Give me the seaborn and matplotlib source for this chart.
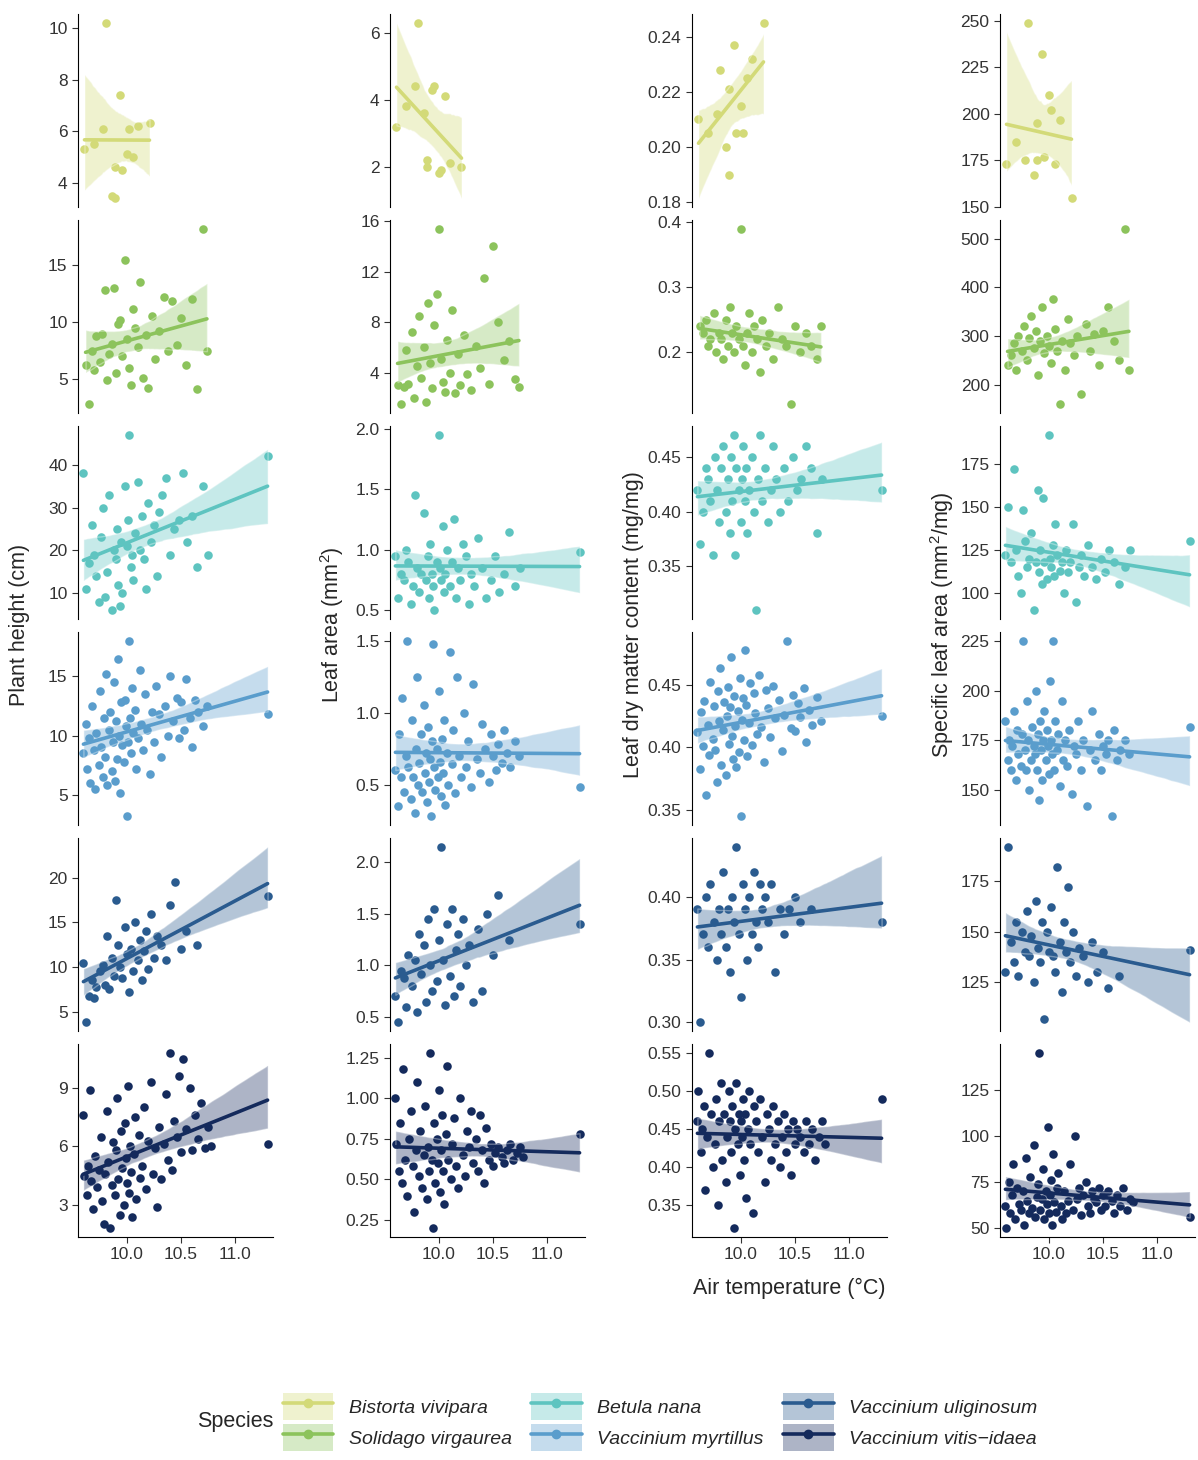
import numpy as np
import pandas as pd
import matplotlib.pyplot as plt
import seaborn as sns
from matplotlib.lines import Line2D
from matplotlib.patches import Patch

# ---- data (one point per plant) ----
species = ["Bistorta vivipara", "Solidago virgaurea", "Betula nana",
           "Vaccinium myrtillus", "Vaccinium uliginosum", "Vaccinium vitis\u2212idaea"]
colors = ["#d3da78", "#8cc35c", "#5ec4c0", "#5a9dcc", "#2a5b8f", "#142a5c"]
traits = ["height", "leaf_area", "ldmc", "sla"]

x_bv = [9.61, 9.70, 9.78, 9.81, 9.86, 9.89, 9.89, 9.94, 9.96, 10.00, 10.02, 10.06, 10.10, 10.21]
height_bv = [5.3, 5.5, 6.1, 10.2, 3.5, 3.4, 4.6, 7.4, 4.5, 5.1, 6.1, 5.0, 6.2, 6.3]
la_bv = [3.2, 3.8, 4.4, 6.3, 3.6, 2.2, 2.0, 4.3, 4.4, 1.8, 1.9, 4.1, 2.1, 2.0]
ldmc_bv = [0.21, 0.205, 0.212, 0.228, 0.20, 0.221, 0.19, 0.237, 0.205, 0.215, 0.205, 0.225, 0.232, 0.245]
sla_bv = [173, 185, 175, 249, 167, 175, 195, 232, 177, 210, 202, 173, 197, 155]

x_sv = [9.62, 9.65, 9.68, 9.70, 9.72, 9.75, 9.77, 9.80, 9.82, 9.84, 9.86, 9.88, 9.90, 9.92, 9.94, 9.96, 9.98, 10.00, 10.02, 10.04,
        10.06, 10.08, 10.10, 10.12, 10.15, 10.18, 10.20, 10.23, 10.26, 10.30, 10.34, 10.38, 10.42, 10.46, 10.50, 10.55, 10.60, 10.65, 10.70, 10.74]
height_sv = [6.2, 2.8, 7.5, 5.8, 8.8, 6.5, 9.0, 12.8, 4.9, 7.2, 8.1, 13.0, 5.5, 9.8, 10.2, 7.0, 15.5, 8.5, 6.0, 4.5,
             11.2, 9.5, 7.8, 13.5, 5.1, 8.9, 4.2, 10.5, 6.8, 9.2, 12.2, 7.5, 11.9, 8.0, 10.4, 6.2, 12.0, 4.1, 18.2, 7.5]
la_sv = [3.0, 1.5, 2.9, 5.8, 3.1, 7.2, 2.0, 4.5, 8.5, 3.6, 6.0, 1.7, 9.5, 4.8, 2.8, 7.8, 10.2, 15.4, 5.1, 3.3,
         2.5, 6.6, 4.0, 9.0, 2.4, 5.5, 3.0, 7.0, 3.9, 2.6, 6.1, 4.4, 11.5, 3.1, 14.0, 8.0, 5.0, 6.5, 3.5, 2.9]
ldmc_sv = [0.24, 0.23, 0.25, 0.21, 0.22, 0.26, 0.20, 0.23, 0.22, 0.19, 0.25, 0.21, 0.27, 0.23, 0.20, 0.24, 0.22, 0.39, 0.21, 0.18,
           0.23, 0.26, 0.20, 0.24, 0.22, 0.17, 0.25, 0.21, 0.23, 0.19, 0.27, 0.22, 0.21, 0.12, 0.24, 0.20, 0.23, 0.21, 0.19, 0.24]
sla_sv = [240, 260, 285, 230, 300, 270, 320, 250, 295, 340, 275, 310, 220, 290, 360, 265, 300, 280, 245, 375,
          315, 270, 160, 290, 230, 335, 285, 260, 300, 180, 325, 270, 305, 240, 310, 360, 290, 250, 520, 230]

x_bn = [9.60, 9.62, 9.65, 9.68, 9.70, 9.72, 9.74, 9.76, 9.78, 9.80, 9.82, 9.84, 9.86, 9.88, 9.90, 9.91, 9.92, 9.94, 9.95, 9.96,
        9.98, 10.00, 10.01, 10.02, 10.04, 10.05, 10.06, 10.08, 10.10, 10.12, 10.14, 10.16, 10.18, 10.20, 10.22, 10.25, 10.28, 10.30, 10.33, 10.36,
        10.40, 10.44, 10.48, 10.52, 10.56, 10.60, 10.65, 10.70, 10.75, 11.30]
height_bn = [38, 11, 17, 26, 19, 14, 8, 23, 30, 9, 15, 33, 6, 20, 18, 25, 12, 7, 22, 10,
             35, 21, 27, 47, 16, 19, 13, 24, 36, 20, 28, 18, 11, 31, 22, 26, 14, 29, 33, 37,
             19, 25, 27, 38, 22, 28, 16, 35, 19, 42]
la_bn = [0.95, 0.6, 0.8, 0.75, 1.0, 0.9, 0.55, 0.7, 1.45, 0.85, 0.65, 0.8, 1.3, 0.75, 0.95, 0.6, 1.05, 0.8, 0.7, 0.5,
         0.9, 1.95, 0.85, 0.75, 1.2, 0.65, 0.8, 1.0, 0.7, 0.9, 1.25, 0.6, 0.85, 0.75, 1.05, 0.95, 0.55, 0.8, 0.7, 1.1,
         0.85, 0.6, 0.75, 0.95, 0.65, 0.8, 1.15, 0.7, 0.85, 0.98]
ldmc_bn = [0.42, 0.37, 0.40, 0.44, 0.43, 0.41, 0.36, 0.45, 0.42, 0.39, 0.44, 0.46, 0.40, 0.43, 0.38, 0.45, 0.41, 0.47, 0.36, 0.44,
           0.42, 0.39, 0.43, 0.46, 0.41, 0.44, 0.38, 0.42, 0.45, 0.40, 0.31, 0.43, 0.47, 0.41, 0.44, 0.39, 0.42, 0.46, 0.43, 0.40,
           0.44, 0.41, 0.45, 0.42, 0.43, 0.46, 0.44, 0.38, 0.43, 0.42]
sla_bn = [122, 150, 118, 172, 125, 110, 100, 148, 130, 115, 120, 135, 90, 118, 160, 112, 125, 105, 155, 118,
          108, 192, 120, 115, 128, 110, 140, 122, 113, 118, 100, 125, 112, 118, 140, 95, 115, 122, 110, 128,
          115, 108, 120, 112, 125, 118, 105, 115, 125, 130]

x_vm = [9.60, 9.62, 9.63, 9.65, 9.66, 9.68, 9.70, 9.71, 9.72, 9.74,
        9.75, 9.76, 9.78, 9.79, 9.80, 9.81, 9.82, 9.84, 9.85, 9.86,
        9.87, 9.88, 9.89, 9.90, 9.91, 9.92, 9.93, 9.94, 9.95, 9.96,
        9.97, 9.98, 9.99, 10.00, 10.01, 10.02, 10.03, 10.04, 10.05, 10.06,
        10.08, 10.09, 10.10, 10.12, 10.13, 10.15, 10.17, 10.19, 10.21, 10.23,
        10.25, 10.27, 10.30, 10.32, 10.35, 10.38, 10.40, 10.43, 10.46, 10.48,
        10.50, 10.53, 10.55, 10.58, 10.60, 10.63, 10.66, 10.70, 10.74, 11.30]
height_vm = [8.5, 11.0, 7.2, 9.8, 6.0, 12.5, 8.8, 5.5, 10.2, 7.5,
             13.8, 9.0, 6.5, 11.5, 8.2, 15.2, 5.8, 10.5, 12.0, 7.0,
             9.5, 14.5, 6.2, 11.2, 8.0, 16.5, 10.0, 5.2, 12.8, 9.2,
             7.8, 13.0, 10.8, 3.2, 9.5, 18.0, 11.5, 8.5, 14.0, 10.2,
             12.2, 7.2, 9.8, 15.5, 11.0, 8.8, 13.5, 10.5, 6.8, 12.0,
             9.5, 14.2, 11.8, 8.2, 12.5, 10.0, 15.0, 11.2, 13.2, 9.8,
             12.8, 10.5, 14.8, 11.5, 9.0, 13.0, 12.0, 10.8, 12.5, 11.8]
la_vm = [0.60, 0.35, 0.85, 0.55, 1.10, 0.45, 0.70, 1.50, 0.62, 0.40,
         0.95, 0.55, 0.30, 0.75, 1.25, 0.50, 0.65, 0.85, 0.45, 1.05,
         0.58, 0.72, 0.38, 0.90, 0.52, 0.68, 0.28, 0.80, 1.48, 0.62,
         0.46, 0.75, 0.55, 1.15, 0.66, 0.42, 0.82, 0.58, 0.95, 0.36,
         0.72, 0.50, 1.42, 0.64, 0.88, 0.44, 1.25, 0.70, 0.55, 1.00,
         0.62, 0.80, 0.48, 1.20, 0.68, 0.58, 0.92, 0.75, 0.52, 0.85,
         0.70, 0.60, 0.78, 0.65, 0.88, 0.72, 0.62, 0.80, 0.70, 0.48]
ldmc_vm = [0.412, 0.383, 0.428, 0.401, 0.437, 0.362, 0.418, 0.394, 0.452, 0.407,
           0.433, 0.398, 0.372, 0.445, 0.421, 0.463, 0.386, 0.414, 0.436, 0.378,
           0.425, 0.448, 0.403, 0.432, 0.472, 0.409, 0.391, 0.441, 0.417, 0.384,
           0.429, 0.396, 0.455, 0.345, 0.422, 0.439, 0.406, 0.478, 0.434, 0.393,
           0.419, 0.451, 0.402, 0.443, 0.427, 0.411, 0.458, 0.416, 0.388, 0.446,
           0.431, 0.408, 0.449, 0.423, 0.438, 0.397, 0.426, 0.485, 0.415, 0.442,
           0.413, 0.435, 0.424, 0.447, 0.404, 0.430, 0.418, 0.440, 0.421, 0.425]
sla_vm = [185, 165, 175, 160, 172, 190, 155, 180, 168, 162,
          178, 225, 170, 160, 195, 175, 150, 165, 182, 172,
          168, 200, 160, 178, 145, 185, 170, 155, 175, 190,
          165, 180, 172, 158, 205, 175, 168, 225, 160, 185,
          170, 178, 152, 195, 165, 175, 162, 180, 148, 172,
          168, 185, 160, 175, 142, 170, 190, 165, 178, 160,
          172, 168, 175, 137, 180, 165, 170, 175, 168, 182]

x_vu = [9.60, 9.62, 9.65, 9.68, 9.70, 9.72, 9.75, 9.78, 9.80, 9.82,
        9.84, 9.86, 9.88, 9.90, 9.92, 9.94, 9.96, 9.98, 10.00, 10.02,
        10.04, 10.06, 10.08, 10.10, 10.12, 10.14, 10.16, 10.18, 10.20, 10.22,
        10.25, 10.28, 10.32, 10.36, 10.40, 10.45, 10.50, 10.55, 10.65, 11.30]
height_vu = [10.5, 3.8, 6.8, 8.5, 6.5, 7.8, 9.5, 10.2, 8.0, 13.5,
             7.5, 11.0, 9.0, 17.5, 12.5, 10.0, 8.8, 14.5, 11.5, 7.2,
             12.0, 9.5, 15.0, 10.8, 13.0, 8.5, 11.8, 14.0, 9.8, 16.0,
             11.0, 13.5, 12.5, 10.8, 17.0, 19.5, 12.0, 14.0, 12.5, 18.0]
la_vu = [0.70, 0.45, 0.95, 0.88, 0.60, 1.10, 0.80, 1.05, 0.55, 1.30,
         0.92, 1.20, 0.65, 1.45, 1.00, 0.75, 1.55, 0.85, 1.25, 2.15,
         1.05, 0.62, 1.40, 0.90, 1.55, 0.70, 1.15, 1.30, 0.80, 1.45,
         1.00, 1.20, 0.65, 1.35, 0.75, 1.50, 1.10, 1.68, 1.25, 1.40]
ldmc_vu = [0.39, 0.30, 0.37, 0.40, 0.36, 0.41, 0.38, 0.35, 0.39, 0.37,
           0.42, 0.36, 0.39, 0.34, 0.40, 0.38, 0.44, 0.37, 0.32, 0.41,
           0.39, 0.35, 0.40, 0.37, 0.42, 0.38, 0.36, 0.41, 0.39, 0.40,
           0.38, 0.41, 0.34, 0.39, 0.37, 0.39, 0.40, 0.38, 0.39, 0.38]
sla_vu = [130, 192, 145, 135, 155, 128, 150, 140, 160, 138,
          148, 125, 165, 142, 135, 155, 107, 150, 140, 162,
          138, 130, 182, 145, 120, 155, 140, 172, 135, 150,
          128, 142, 138, 125, 145, 130, 140, 122, 128, 141]

x_vv = [9.60, 9.61, 9.63, 9.64, 9.66, 9.67, 9.69, 9.71, 9.73, 9.74,
        9.76, 9.77, 9.79, 9.80, 9.82, 9.83, 9.85, 9.86, 9.87, 9.89,
        9.90, 9.91, 9.92, 9.94, 9.95, 9.96, 9.97, 9.98, 9.99, 10.00,
        10.01, 10.02, 10.03, 10.04, 10.05, 10.07, 10.08, 10.09, 10.11, 10.12,
        10.14, 10.16, 10.18, 10.20, 10.22, 10.24, 10.26, 10.28, 10.30, 10.32,
        10.34, 10.36, 10.38, 10.40, 10.42, 10.44, 10.46, 10.48, 10.50, 10.52,
        10.55, 10.58, 10.60, 10.63, 10.66, 10.69, 10.72, 10.75, 10.78, 11.30]
height_vv = [7.6, 4.5, 3.5, 5.0, 8.9, 4.2, 2.8, 5.5, 3.9, 4.8,
             6.5, 3.2, 2.0, 4.6, 7.8, 5.2, 1.8, 4.0, 6.2, 3.5,
             5.8, 8.5, 4.3, 2.5, 6.8, 4.9, 3.0, 7.2, 5.4, 4.1,
             9.1, 3.6, 6.0, 4.7, 2.4, 5.6, 7.5, 3.3, 6.6, 4.4,
             5.0, 8.0, 3.8, 6.3, 9.3, 4.6, 5.9, 2.9, 7.0, 4.3,
             6.1, 8.7, 5.3, 10.8, 4.8, 7.3, 6.5, 9.6, 5.7, 10.5,
             6.9, 9.0, 5.8, 7.6, 6.4, 8.2, 5.9, 7.0, 6.0, 6.1]
la_vv = [1.00, 0.72, 0.55, 0.85, 0.48, 1.18, 0.62, 0.40, 0.75, 0.92,
         0.58, 0.30, 0.68, 1.10, 0.52, 0.80, 0.45, 0.65, 0.95, 0.38,
         0.70, 0.55, 1.28, 0.62, 0.20, 0.85, 0.48, 0.75, 0.60, 1.05,
         0.42, 0.68, 0.90, 0.55, 0.35, 0.78, 1.20, 0.62, 0.50, 0.72,
         0.88, 0.58, 0.45, 1.00, 0.65, 0.52, 0.80, 0.70, 0.92, 0.60,
         0.75, 0.55, 0.90, 0.68, 0.48, 0.82, 0.62, 0.72, 0.58, 0.66,
         0.70, 0.64, 0.60, 0.68, 0.72, 0.62, 0.66, 0.70, 0.64, 0.78]
ldmc_vv = [0.46, 0.50, 0.42, 0.45, 0.48, 0.37, 0.44, 0.55, 0.47, 0.40,
           0.43, 0.49, 0.35, 0.46, 0.51, 0.41, 0.47, 0.38, 0.44, 0.50,
           0.46, 0.42, 0.48, 0.32, 0.45, 0.51, 0.43, 0.47, 0.39, 0.46,
           0.44, 0.49, 0.41, 0.47, 0.36, 0.45, 0.50, 0.43, 0.34, 0.48,
           0.46, 0.42, 0.49, 0.44, 0.38, 0.47, 0.45, 0.41, 0.48, 0.43,
           0.46, 0.40, 0.44, 0.47, 0.42, 0.45, 0.39, 0.46, 0.43, 0.45,
           0.44, 0.42, 0.46, 0.43, 0.45, 0.41, 0.44, 0.46, 0.43, 0.49]
sla_vv = [62, 50, 75, 58, 68, 85, 55, 72, 63, 60,
          70, 52, 88, 65, 58, 78, 61, 95, 56, 67,
          74, 145, 60, 66, 82, 55, 70, 63, 105, 58,
          68, 76, 52, 90, 64, 59, 72, 80, 62, 55,
          70, 58, 65, 85, 60, 100, 66, 72, 57, 68,
          75, 62, 58, 70, 66, 64, 72, 60, 68, 62,
          70, 65, 58, 68, 62, 72, 60, 66, 64, 56]

columns = [
    (x_bv, height_bv, la_bv, ldmc_bv, sla_bv),
    (x_sv, height_sv, la_sv, ldmc_sv, sla_sv),
    (x_bn, height_bn, la_bn, ldmc_bn, sla_bn),
    (x_vm, height_vm, la_vm, ldmc_vm, sla_vm),
    (x_vu, height_vu, la_vu, ldmc_vu, sla_vu),
    (x_vv, height_vv, la_vv, ldmc_vv, sla_vv),
]
frames = []
for sp, (x, h, la, ld, sl) in zip(species, columns):
    frames.append(pd.DataFrame({"species": sp, "temp": x, "height": h,
                                "leaf_area": la, "ldmc": ld, "sla": sl}))
df = pd.concat(frames, ignore_index=True)

yticks = [
    [[4, 6, 8, 10], [2, 4, 6], [0.18, 0.20, 0.22, 0.24], [150, 175, 200, 225, 250]],
    [[5, 10, 15], [4, 8, 12, 16], [0.2, 0.3, 0.4], [200, 300, 400, 500]],
    [[10, 20, 30, 40], [0.5, 1.0, 1.5, 2.0], [0.35, 0.40, 0.45], [100, 125, 150, 175]],
    [[5, 10, 15], [0.5, 1.0, 1.5], [0.35, 0.40, 0.45], [150, 175, 200, 225]],
    [[5, 10, 15, 20], [0.5, 1.0, 1.5, 2.0], [0.30, 0.35, 0.40], [125, 150, 175]],
    [[3, 6, 9], [0.25, 0.50, 0.75, 1.00, 1.25], [0.35, 0.40, 0.45, 0.50, 0.55], [50, 75, 100, 125]],
]
ylabels = ["Plant height (cm)", "Leaf area (mm$^2$)",
           "Leaf dry matter content (mg/mg)", "Specific leaf area (mm$^2$/mg)"]

# ---- drawing ----
sns.set_style("ticks")
plt.rcParams['font.family'] = ['Liberation Sans', 'DejaVu Sans']
plt.rcParams['mathtext.fontset'] = 'custom'
plt.rcParams['mathtext.rm'] = 'Liberation Sans'

W, H = 1198, 1460
fig = plt.figure(figsize=(W / 100, H / 100), dpi=100)
lefts = [78, 390, 692, 1000]
aw, ah = 195, 193

for r, sp in enumerate(species):
    sub = df[df["species"] == sp]
    top = 14 + 206 * r
    for c, tr in enumerate(traits):
        ax = fig.add_axes([lefts[c] / W, 1 - (top + ah) / H, aw / W, ah / H])
        sns.regplot(data=sub, x="temp", y=tr, ax=ax, color=colors[r], ci=95, seed=1,
                    scatter_kws=dict(s=38, alpha=1, linewidths=0),
                    line_kws=dict(lw=2.6))
        for coll in ax.collections[1:]:
            coll.set_alpha(0.35)
        ax.set_xlim(9.55, 11.35)
        ax.set_yticks(yticks[r][c])
        ax.set_xlabel("")
        ax.set_ylabel("")
        ax.tick_params(labelsize=12.5, colors="#333333", length=4)
        for s in ["top", "right"]:
            ax.spines[s].set_visible(False)
        ax.spines["left"].set_color("black")
        if r < 5:
            ax.spines["bottom"].set_visible(False)
            ax.set_xticks([])
        else:
            ax.set_xticks([10.0, 10.5, 11.0])
            ax.spines["bottom"].set_color("black")

for c, lab in enumerate(ylabels):
    fig.text((lefts[c] - 58) / W, 1 - 625 / H, lab, rotation=90, ha="center",
             va="center", fontsize=15.5)
fig.text((692 + 97) / W, 1 - 1288 / H, "Air temperature (\u00b0C)", ha="center",
         va="center", fontsize=15.5)

handles = []
for col in colors:
    handles.append((Patch(facecolor=col, alpha=0.35, edgecolor="none"),
                    Line2D([], [], color=col, lw=2.6, marker="o", markersize=6)))
fig.legend(handles, species, ncol=3, loc="center", bbox_to_anchor=(660 / W, 1 - 1422 / H),
           frameon=False, prop=dict(style="italic", size=14), handlelength=2.6,
           handleheight=1.8, columnspacing=1.0, labelspacing=0.2)
fig.text(235 / W, 1 - 1422 / H, "Species", ha="center", va="center", fontsize=15.5)

fig.savefig("out.png", dpi=100)
